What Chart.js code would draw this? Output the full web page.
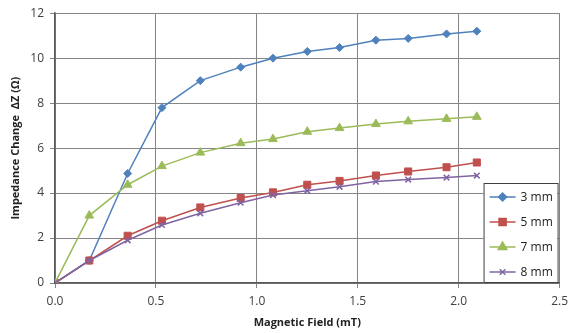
<!DOCTYPE html>
<html>
<head>
<meta charset="utf-8">
<script src="https://cdn.jsdelivr.net/npm/chart.js@4/dist/chart.umd.min.js"></script>
<style>
  html, body { margin: 0; padding: 0; background: #fff; }
  #wrap { width: 574px; height: 333px; position: relative; }
</style>
</head>
<body>
<div id="wrap"><canvas id="impedanceChart"></canvas></div>
<script>
// magnetic field (mT) and impedance change (ohm) for each gap
var fieldMT = [0, 0.17, 0.36, 0.53, 0.72, 0.92, 1.08, 1.25, 1.41, 1.59, 1.75, 1.94, 2.09];
var gap3mm = [0, 1.0, 4.87, 7.8, 9.0, 9.6, 10.0, 10.3, 10.47, 10.8, 10.88, 11.08, 11.2];
var gap5mm = [0, 1.0, 2.1, 2.77, 3.36, 3.78, 4.03, 4.37, 4.54, 4.78, 4.96, 5.15, 5.36];
var gap7mm = [0, 3.0, 4.37, 5.2, 5.8, 6.22, 6.4, 6.73, 6.89, 7.07, 7.19, 7.3, 7.39];
var gap8mm = [0, 1.0, 1.9, 2.58, 3.1, 3.57, 3.91, 4.1, 4.28, 4.51, 4.6, 4.69, 4.78];

var seriesNames = ['3 mm', '5 mm', '7 mm', '8 mm'];
var seriesValues = [gap3mm, gap5mm, gap7mm, gap8mm];
var seriesColors = ['#4F81BD', '#C0504D', '#9BBB59', '#8064A2'];
var seriesMarkers = ['rectRot', 'rect', 'triangle', 'crossRot'];
var markerSizes = [4, 5, 5, 4];

var xTicks = [0, 0.5, 1.0, 1.5, 2.0, 2.5];
var yTicks = [0, 2, 4, 6, 8, 10, 12];

var datasets = [];
for (var i = 0; i < seriesNames.length; i++) {
  var pts = [];
  for (var j = 0; j < fieldMT.length; j++) {
    pts.push({ x: fieldMT[j], y: seriesValues[i][j] });
  }
  datasets.push({
    label: seriesNames[i],
    data: pts,
    borderColor: seriesColors[i],
    backgroundColor: seriesColors[i],
    borderWidth: 1.5,
    pointStyle: seriesMarkers[i],
    pointRadius: markerSizes[i],
    pointHoverRadius: markerSizes[i],
    pointBorderWidth: seriesMarkers[i] == 'crossRot' ? 1.5 : 1,
    tension: 0,
    order: seriesNames.length - i
  });
}

// legend box drawn inside the plot, bottom right
var insideLegend = {
  id: 'insideLegend',
  afterDraw: function(chart) {
    var ctx = chart.ctx;
    var area = chart.chartArea;
    var w = 74, h = 100;
    var left = area.right - w - 2;
    var top = area.bottom - h;
    ctx.save();
    ctx.fillStyle = '#fff';
    ctx.fillRect(left, top, w, h);
    ctx.strokeStyle = '#404040';
    ctx.lineWidth = 1;
    ctx.strokeRect(left + 0.5, top + 0.5, w, h - 1);
    ctx.font = '12px "Open Sans"';
    ctx.textBaseline = 'middle';
    for (var i = 0; i < seriesNames.length; i++) {
      var cy = top + 14 + i * 25;
      ctx.strokeStyle = seriesColors[i];
      ctx.fillStyle = seriesColors[i];
      ctx.lineWidth = 1.5;
      ctx.beginPath();
      ctx.moveTo(left + 6, cy);
      ctx.lineTo(left + 32, cy);
      ctx.stroke();
      Chart.helpers.drawPoint(ctx, {
        pointStyle: seriesMarkers[i],
        radius: markerSizes[i],
        rotation: 0,
        borderWidth: seriesMarkers[i] == 'crossRot' ? 1.5 : 1
      }, left + 19, cy);
      ctx.fillStyle = '#222';
      ctx.fillText(seriesNames[i], left + 37, cy + 1);
    }
    ctx.restore();
  }
};

var ctx = document.getElementById('impedanceChart').getContext('2d');
var myChart = new Chart(ctx, {
  type: 'line',
  data: { datasets: datasets },
  plugins: [insideLegend],
  options: {
    responsive: true,
    maintainAspectRatio: false,
    animation: false,
    layout: { padding: { top: 12, right: 9, left: 5, bottom: 0 } },
    plugins: {
      legend: { display: false },
      tooltip: { enabled: false }
    },
    scales: {
      x: {
        type: 'linear',
        min: 0,
        max: 2.5,
        afterBuildTicks: function(scale) {
          scale.ticks = xTicks.map(function(v) { return { value: v }; });
        },
        afterFit: function(scale) { scale.height = 50; },
        grid: { color: '#858585', lineWidth: 1, tickLength: 5 },
        border: { color: '#5a5a5a', width: 1.5 },
        ticks: {
          color: '#404040',
          font: { family: 'Open Sans', size: 12 },
          padding: 6,
          maxRotation: 0,
          callback: function(v) { return Number(v).toFixed(1); }
        },
        title: {
          display: true,
          text: 'Magnetic Field (mT)',
          color: '#222',
          font: { family: 'Open Sans', size: 11, weight: 'bold' },
          padding: { top: 2 }
        }
      },
      y: {
        min: 0,
        max: 12,
        afterBuildTicks: function(scale) {
          scale.ticks = yTicks.map(function(v) { return { value: v }; });
        },
        afterFit: function(scale) { scale.width = 50; },
        grid: { color: '#858585', lineWidth: 1, tickLength: 5 },
        border: { color: '#5a5a5a', width: 1.5 },
        ticks: {
          color: '#404040',
          font: { family: 'Open Sans', size: 12 },
          padding: 6
        },
        title: {
          display: true,
          text: 'Impedance Change  ΔZ (Ω)',
          color: '#222',
          font: { family: 'Open Sans', size: 11, weight: 'bold' },
          padding: { bottom: 4 }
        }
      }
    }
  }
});
</script>
</body>
</html>
